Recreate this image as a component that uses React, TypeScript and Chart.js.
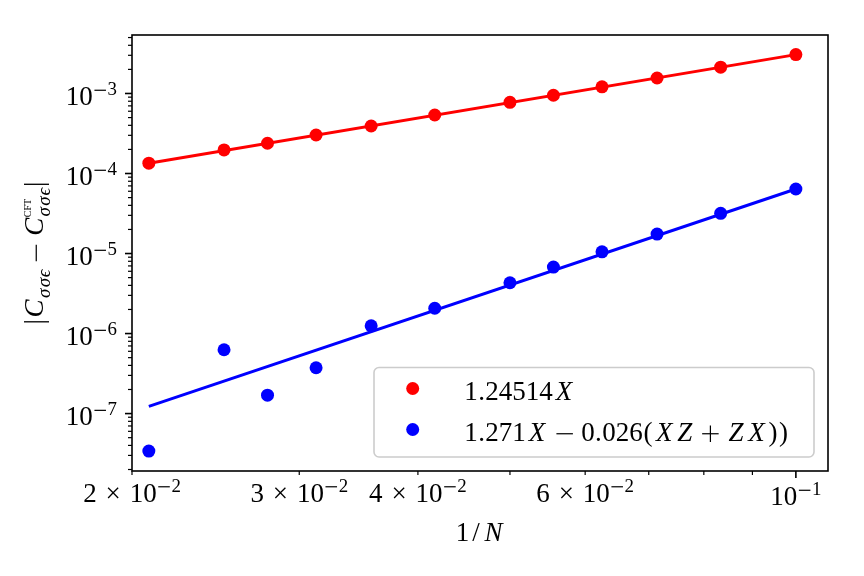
import { useEffect, useRef } from "react";
import { Chart, registerables } from "chart.js";

Chart.register(...registerables);

// ---- data ----
const N_VALUES = [48, 40, 36, 32, 28, 24, 20, 18, 16, 14, 12, 10];
const RED_VALUES = [1.345e-4, 1.97e-4, 2.39e-4, 3.03e-4, 3.92e-4, 5.38e-4, 7.76e-4, 9.5e-4, 1.21e-3, 1.56e-3, 2.13e-3, 3.06e-3];
const BLUE_VALUES = [3.4e-8, 6.27e-7, 1.7e-7, 3.74e-7, 1.25e-6, 2.07e-6, 4.31e-6, 6.78e-6, 1.05e-5, 1.75e-5, 3.18e-5, 6.4e-5];
const FIT_N = [48, 10];
const RED_FIT = [1.345e-4, 3.06e-3];
const BLUE_FIT = [1.23e-7, 6.4e-5];
const X_LIMITS = [0.02, 0.1081];
const Y_LIMITS = [1.916e-8, 5.38e-3];
const X_TICK_VALUES = [0.02, 0.03, 0.04, 0.06, 0.1];
const X_TICK_MANTISSA = ["2", "3", "4", "6", ""];
const X_TICK_EXP = ["−2", "−2", "−2", "−2", "−1"];
const X_MAJOR_TICKS = [0.1];
const Y_TICK_VALUES = [1e-7, 1e-6, 1e-5, 1e-4, 1e-3];
const Y_TICK_EXP = ["−7", "−6", "−5", "−4", "−3"];
const RED = "#ff0000";
const BLUE = "#0000ff";

// ---- tiny math-text renderer (Computer-Modern-like advance widths) ----
type Run = {
  t?: string;
  it?: boolean;
  scale?: number;
  dy?: number;
  pre?: number;
  post?: number;
  measured?: boolean;
  stack?: Run[];
};

const CM: Record<string, number> = {
  "0": 0.5, "1": 0.5, "2": 0.5, "3": 0.5, "4": 0.5, "5": 0.5, "6": 0.5, "7": 0.5, "8": 0.5, "9": 0.5,
  ".": 0.278, X: 0.828, Z: 0.681, N: 0.803, C: 0.715, "(": 0.389, ")": 0.389,
  "−": 0.778, "+": 0.778, "×": 0.778, "/": 0.5, "|": 0.278, "σ": 0.571, "ϵ": 0.406,
};

const FAMILY = '"Liberation Serif", "DejaVu Serif", serif';

function fontFor(run: Run, S: number) {
  const size = S * (run.scale ?? 1);
  return `${run.it ? "italic " : ""}${size}px ${FAMILY}`;
}

function charW(ctx: CanvasRenderingContext2D, run: Run, ch: string, S: number) {
  const size = S * (run.scale ?? 1);
  if (!run.measured && CM[ch] !== undefined) return CM[ch] * size;
  ctx.font = fontFor(run, S);
  return ctx.measureText(ch).width;
}

function runW(ctx: CanvasRenderingContext2D, run: Run, S: number): number {
  let w = ((run.pre ?? 0) + (run.post ?? 0)) * S;
  if (run.stack) return w + Math.max(...run.stack.map((r) => runW(ctx, r, S)));
  for (const ch of run.t ?? "") w += charW(ctx, run, ch, S);
  return w;
}

function textW(ctx: CanvasRenderingContext2D, runs: Run[], S: number) {
  return runs.reduce((a, r) => a + runW(ctx, r, S), 0);
}

function drawRuns(ctx: CanvasRenderingContext2D, runs: Run[], x: number, y: number, S: number) {
  ctx.textAlign = "center";
  ctx.textBaseline = "alphabetic";
  for (const run of runs) {
    x += (run.pre ?? 0) * S;
    if (run.stack) {
      let m = 0;
      for (const r of run.stack) {
        drawRuns(ctx, [r], x, y, S);
        ctx.textAlign = "center";
        m = Math.max(m, runW(ctx, r, S));
      }
      x += m;
    } else {
      const size = S * (run.scale ?? 1);
      for (const ch of run.t ?? "") {
        const w = charW(ctx, run, ch, S);
        const base = y + (run.dy ?? 0);
        if (ch === "−" || ch === "+") {
          // Computer-Modern-like operator bars
          const half = 0.3055 * size;
          const th = Math.max(1.2, 0.045 * size);
          const cx = x + w / 2;
          const cy = base - 0.25 * size;
          ctx.fillRect(cx - half, cy - th / 2, half * 2, th);
          if (ch === "+") ctx.fillRect(cx - th / 2, cy - half, th, half * 2);
        } else {
          ctx.font = fontFor(run, S);
          ctx.fillText(ch, x + w / 2, base);
        }
        x += w;
      }
    }
    x += (run.post ?? 0) * S;
  }
  return x;
}

const S = 27;
const SUP: Partial<Run> = { scale: 0.7, dy: -10 };

const LEGEND_ROWS: { color: string; runs: Run[] }[] = [
  { color: RED, runs: [{ t: "1.24514" }, { t: "X", it: true }] },
  {
    color: BLUE,
    runs: [
      { t: "1.271" },
      { t: "X", it: true },
      { t: "−", pre: 0.222, post: 0.222 },
      { t: "0.026(" },
      { t: "XZ", it: true },
      { t: "+", pre: 0.222, post: 0.222 },
      { t: "ZX", it: true },
      { t: "))" },
    ],
  },
];

const Y_LABEL: Run[] = [
  { t: "|" },
  { t: "C", it: true },
  { t: "σσϵ", it: true, scale: 0.7, dy: 7 },
  { t: "−", pre: 0.222, post: 0.222 },
  { t: "C", it: true },
  {
    stack: [
      { t: "CFT", scale: 0.37, dy: -12, measured: true },
      { t: "σσϵ", it: true, scale: 0.7, dy: 7 },
    ],
  },
  { t: "|" },
];

const X_LABEL: Run[] = [{ t: "1/" }, { t: "N", it: true }];

const decorPlugin = {
  id: "decor",
  afterDraw(chart: any) {
    const ctx: CanvasRenderingContext2D = chart.ctx;
    const a = chart.chartArea;
    const xs = chart.scales.x;
    const ys = chart.scales.y;
    ctx.save();
    ctx.fillStyle = "#000";
    ctx.strokeStyle = "#000";

    // x ticks
    for (let v = 0.02; v < 0.1 - 1e-9; v += 0.01) {
      const px = xs.getPixelForValue(v);
      ctx.lineWidth = 1.2;
      ctx.beginPath();
      ctx.moveTo(px, a.bottom);
      ctx.lineTo(px, a.bottom + 4);
      ctx.stroke();
    }
    for (const v of X_MAJOR_TICKS) {
      const px = xs.getPixelForValue(v);
      ctx.lineWidth = 1.6;
      ctx.beginPath();
      ctx.moveTo(px, a.bottom);
      ctx.lineTo(px, a.bottom + 7);
      ctx.stroke();
    }
    // y ticks
    for (let e = -8; e <= -3; e++) {
      for (let k = 1; k <= 9; k++) {
        const v = k * Math.pow(10, e);
        if (v < Y_LIMITS[0] || v > Y_LIMITS[1]) continue;
        const py = ys.getPixelForValue(v);
        const len = k === 1 ? 7 : 4;
        ctx.lineWidth = k === 1 ? 1.6 : 1.2;
        ctx.beginPath();
        ctx.moveTo(a.left, py);
        ctx.lineTo(a.left - len, py);
        ctx.stroke();
      }
    }

    // x tick labels
    X_TICK_VALUES.forEach((v, i) => {
      const px = xs.getPixelForValue(v);
      const runs: Run[] = [];
      if (X_TICK_MANTISSA[i]) {
        runs.push({ t: X_TICK_MANTISSA[i] });
        runs.push({ t: "×", pre: 0.222, post: 0.222 });
      }
      runs.push({ t: "10" });
      runs.push({ t: X_TICK_EXP[i], ...SUP });
      const w = textW(ctx, runs, S);
      const base = X_TICK_MANTISSA[i] ? a.bottom + 30.5 : a.bottom + 34;
      drawRuns(ctx, runs, px - w / 2, base, S);
    });

    // y tick labels
    Y_TICK_VALUES.forEach((v, i) => {
      const py = ys.getPixelForValue(v);
      const runs: Run[] = [{ t: "10" }, { t: Y_TICK_EXP[i], ...SUP }];
      const w = textW(ctx, runs, S);
      drawRuns(ctx, runs, a.left - 15 - w, py + 11.5, S);
    });

    // x label
    {
      const w = textW(ctx, X_LABEL, S);
      drawRuns(ctx, X_LABEL, (a.left + a.right) / 2 - w / 2, a.bottom + 69.5, S);
    }

    // y label (rotated)
    {
      const w = textW(ctx, Y_LABEL, S);
      ctx.save();
      ctx.translate(43, (a.top + a.bottom) / 2 + w / 2);
      ctx.rotate(-Math.PI / 2);
      drawRuns(ctx, Y_LABEL, 0, 0, S);
      ctx.restore();
    }

    // legend
    {
      const bw = 440;
      const bh = 89.5;
      const bx = a.right - 14 - bw;
      const by = a.bottom - 14 - bh;
      const r = 5;
      ctx.beginPath();
      ctx.moveTo(bx + r, by);
      ctx.arcTo(bx + bw, by, bx + bw, by + bh, r);
      ctx.arcTo(bx + bw, by + bh, bx, by + bh, r);
      ctx.arcTo(bx, by + bh, bx, by, r);
      ctx.arcTo(bx, by, bx + bw, by, r);
      ctx.closePath();
      ctx.fillStyle = "rgba(255,255,255,0.8)";
      ctx.fill();
      ctx.strokeStyle = "#cccccc";
      ctx.lineWidth = 1.6;
      ctx.stroke();
      LEGEND_ROWS.forEach((row, i) => {
        const base = by + 32 + i * 41;
        ctx.fillStyle = row.color;
        ctx.beginPath();
        ctx.arc(bx + 38.7, base - 11, 6.5, 0, Math.PI * 2);
        ctx.fill();
        ctx.fillStyle = "#000";
        drawRuns(ctx, row.runs, bx + 90.3, base, S);
      });
    }

    // spines
    ctx.strokeStyle = "#000";
    ctx.lineWidth = 1.6;
    ctx.strokeRect(a.left, a.top, a.right - a.left, a.bottom - a.top);
    ctx.restore();
  },
};

export default function App() {
  const ref = useRef<HTMLCanvasElement | null>(null);
  useEffect(() => {
    if (!ref.current) return;
    const xs = N_VALUES.map((n) => 1 / n);
    const fx = FIT_N.map((n) => 1 / n);
    const chart = new Chart(ref.current, {
      type: "scatter",
      data: {
        datasets: [
          {
            label: "red fit",
            data: fx.map((x, i) => ({ x, y: RED_FIT[i] })),
            showLine: true,
            borderColor: RED,
            borderWidth: 3,
            pointRadius: 0,
          },
          {
            label: "1.24514X",
            data: xs.map((x, i) => ({ x, y: RED_VALUES[i] })),
            backgroundColor: RED,
            borderWidth: 0,
            pointRadius: 6.5,
          },
          {
            label: "blue fit",
            data: fx.map((x, i) => ({ x, y: BLUE_FIT[i] })),
            showLine: true,
            borderColor: BLUE,
            borderWidth: 3,
            pointRadius: 0,
          },
          {
            label: "1.271X − 0.026(XZ + ZX))",
            data: xs.map((x, i) => ({ x, y: BLUE_VALUES[i] })),
            backgroundColor: BLUE,
            borderWidth: 0,
            pointRadius: 6.5,
          },
        ],
      },
      options: {
        responsive: false,
        animation: false,
        layout: { padding: { left: 132, top: 35, right: 36, bottom: 105 } },
        plugins: { legend: { display: false }, tooltip: { enabled: false } },
        scales: {
          x: { type: "logarithmic", min: X_LIMITS[0], max: X_LIMITS[1], display: false },
          y: { type: "logarithmic", min: Y_LIMITS[0], max: Y_LIMITS[1], display: false },
        },
      },
      plugins: [decorPlugin],
    });
    return () => chart.destroy();
  }, []);
  return (
    <div style={{ position: "fixed", left: 0, top: 0, width: 864, height: 576, background: "#fff" }}>
      <canvas ref={ref} width={864} height={576} style={{ display: "block" }} />
    </div>
  );
}
